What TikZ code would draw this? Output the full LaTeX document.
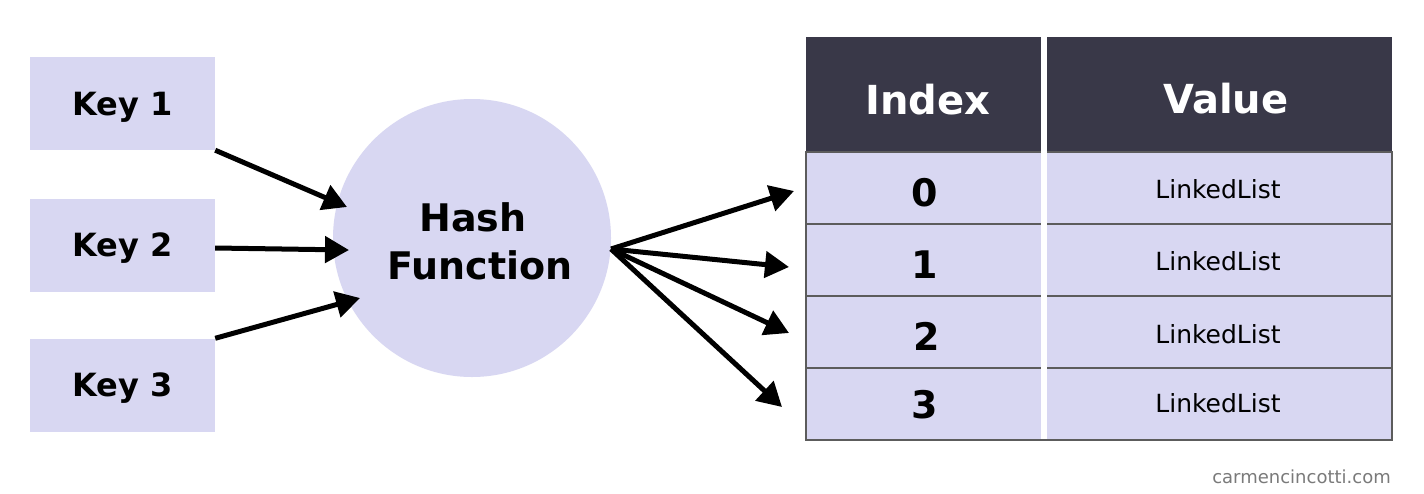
\documentclass[tikz,border=0pt]{standalone}
\usepackage{fontspec}
\setmainfont{DejaVu Sans}
\usetikzlibrary{arrows.meta}
\definecolor{lav}{HTML}{D8D7F2}
\definecolor{hdr}{HTML}{393848}
\definecolor{rowline}{HTML}{5C5C5C}
\definecolor{wm}{HTML}{7A7A7A}
\begin{document}
\begin{tikzpicture}[x=1pt,y=-1pt,
  keybox/.style={rectangle, fill=lav, minimum width=185pt, minimum height=93pt, inner sep=0pt,
    font=\fontsize{32}{38}\selectfont\bfseries, text depth=0pt},
  hashcirc/.style={circle, fill=lav, minimum size=278pt, inner sep=0pt},
  bigbold/.style={font=\fontsize{38}{46}\selectfont\bfseries, anchor=base, inner sep=0pt},
  hdrcell/.style={rectangle, fill=hdr, inner sep=0pt, minimum height=115pt},
  hdrtext/.style={font=\fontsize{40}{48}\selectfont\bfseries, text=white, anchor=base, inner sep=0pt},
  rowcell/.style={rectangle, fill=lav, draw=rowline, line width=2pt, minimum width=586pt, minimum height=72pt, inner sep=0pt},
  digit/.style={font=\fontsize{38}{46}\selectfont\bfseries, anchor=base, inner sep=0pt},
  valtext/.style={font=\fontsize{25}{30}\selectfont, anchor=base, inner sep=0pt},
  arr/.style={line width=5pt, -{Triangle[length=24pt,width=26pt]}}
]
\useasboundingbox (0,0) rectangle (1424,493);
\fill[white] (0,0) rectangle (1424,493);

% keys
\node[keybox] (k1) at (122.5,103.5) {Key 1};
\node[keybox] (k2) at (122.5,245) {Key 2};
\node[keybox] (k3) at (122.5,385) {Key 3};

% hash function
\node[hashcirc] (hf) at (472,238) {};
\node[bigbold] (hft1) at (473,231) {Hash};
\node[bigbold] (hft2) at (480,279) {Function};

% table header
\node[hdrcell, minimum width=235pt] (hidx) at (923.5,94.5) {};
\node[hdrcell, minimum width=345pt] (hval) at (1219.5,94.5) {};
\node[hdrtext] (hidxt) at (928,114) {Index};
\node[hdrtext] (hvalt) at (1226,113) {Value};

% rows
\node[rowcell] (r0) at (1099,188) {};
\node[rowcell] (r1) at (1099,260) {};
\node[rowcell] (r2) at (1099,332) {};
\node[rowcell] (r3) at (1099,404) {};
\fill[white] (1041,151) rectangle (1047,439);

\node[digit] (d0) at (925,206) {0};
\node[digit] (d1) at (925,278) {1};
\node[digit] (d2) at (927,350) {2};
\node[digit] (d3) at (925,418) {3};
\node[valtext] (v0) at (1218,198) {LinkedList};
\node[valtext] (v1) at (1218,270) {LinkedList};
\node[valtext] (v2) at (1218,343) {LinkedList};
\node[valtext] (v3) at (1218,412) {LinkedList};

% watermark
\node[font=\fontsize{18}{22}\selectfont, text=wm, anchor=base east, inner sep=0pt] (wmk) at (1391,483) {carmencincotti.com};

% arrow end coordinates
\coordinate (t1) at (347,207);
\coordinate (t2) at (349,250);
\coordinate (t3) at (360,298);
\coordinate (hfo) at (611,249);
\coordinate (o0) at (794,191);
\coordinate (o1) at (789,267);
\coordinate (o2) at (789,333);
\coordinate (o3) at (782,407);

\draw[arr] (k1.south east) -- (t1);
\draw[arr] ([yshift=-3pt]k2.east) -- (t2);
\draw[arr] (k3.north east) -- (t3);
\draw[arr] (hfo) -- (o0);
\draw[arr] (hfo) -- (o1);
\draw[arr] (hfo) -- (o2);
\draw[arr] (hfo) -- (o3);
\end{tikzpicture}
\end{document}
